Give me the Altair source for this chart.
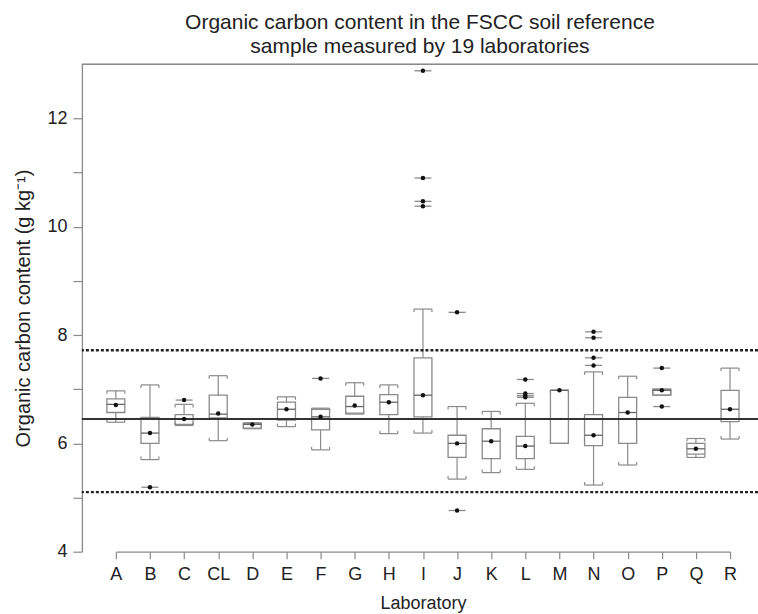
import altair as alt
import pandas as pd

labs = ["A", "B", "C", "CL", "D", "E", "F", "G", "H", "I",
        "J", "K", "L", "M", "N", "O", "P", "Q", "R"]
w_lo = [6.39, 5.70, 6.33, 6.05, 6.27, 6.31, 5.88, 6.54, 6.18, 6.19,
        5.34, 5.46, 5.52, 6.00, 5.23, 5.60, 6.89, 5.74, 6.08]
q1 = [6.57, 6.00, 6.35, 6.47, 6.28, 6.43, 6.25, 6.56, 6.53, 6.49,
      5.74, 5.72, 5.72, 6.00, 5.96, 6.00, 6.89, 5.80, 6.40]
med = [6.72, 6.19, 6.45, 6.54, 6.35, 6.63, 6.49, 6.68, 6.76, 6.89,
       6.00, 6.04, 5.95, 6.98, 6.15, 6.57, 6.98, 5.90, 6.63]
q3 = [6.82, 6.48, 6.53, 6.89, 6.37, 6.76, 6.63, 6.87, 6.90, 7.58,
      6.15, 6.27, 6.13, 6.98, 6.53, 6.85, 7.00, 6.00, 6.98]
w_hi = [6.97, 7.08, 6.72, 7.25, 6.38, 6.86, 6.65, 7.12, 7.08, 8.48,
        6.68, 6.59, 6.74, 6.98, 7.32, 7.24, 7.00, 6.09, 7.39]
means = [6.71, 6.19, 6.45, 6.55, 6.35, 6.63, 6.49, 6.70, 6.76, 6.89,
         6.00, 6.04, 5.95, 6.98, 6.15, 6.57, 6.98, 5.90, 6.63]

out_lab = ["B", "C", "F", "I", "I", "I", "I", "J", "J", "L",
           "L", "L", "L", "N", "N", "N", "N", "P", "P"]
out_val = [5.19, 6.80, 7.20, 12.88, 10.90, 10.47, 10.38, 8.42, 4.76, 7.18,
           6.92, 6.88, 6.85, 8.06, 7.95, 7.58, 7.44, 7.39, 6.68]

ref_mean = 6.45
ref_lo = 5.10
ref_hi = 7.72

y_ticks = [4, 5, 6, 7, 8, 9, 10, 11, 12]

df = pd.DataFrame({"lab": labs, "w_lo": w_lo, "q1": q1, "med": med,
                   "q3": q3, "w_hi": w_hi, "mean": means})
dout = pd.DataFrame({"lab": out_lab, "val": out_val})
dref = pd.DataFrame({"v": [ref_mean, ref_lo, ref_hi],
                     "kind": ["mean", "lim", "lim"]})

FONT = "Liberation Sans"
GRAY = "#8a8a8a"
HW = 9
W, H = 677, 488

xs = alt.Scale(type="point", domain=labs, range=[34, 649], padding=0)
ys = alt.Scale(domain=[4, 13], nice=False, zero=False)

X = alt.X("lab:N", scale=xs, sort=labs,
          axis=alt.Axis(title="Laboratory", labelAngle=0, tickSize=7,
                        labelPadding=7, titlePadding=11, labelFontSize=18,
                        titleFontSize=18, ticks=True, domain=True))
Y_axis = alt.Axis(title="Organic carbon content (g kg⁻¹)", values=y_ticks,
                  labelExpr="datum.value % 2 == 0 ? datum.label : ''",
                  tickSize=9, labelPadding=6, titlePadding=13,
                  labelFontSize=18, titleFontSize=20, grid=False)


def Y(field):
    return alt.Y(f"{field}:Q", scale=ys, axis=Y_axis)


base = alt.Chart(df)

# whiskers
wlow = base.mark_rule(color=GRAY, strokeWidth=1.2).encode(
    x=X, y=Y("w_lo"), y2="q1")
whigh = base.mark_rule(color=GRAY, strokeWidth=1.2).encode(
    x=X, y=Y("q3"), y2="w_hi")

# caps (horizontal) with small bracket legs
cap_hi = base.mark_rule(color=GRAY, strokeWidth=1.2, xOffset=-HW,
                        x2Offset=HW).encode(x=X, x2="lab", y=Y("w_hi"))
cap_lo = base.mark_rule(color=GRAY, strokeWidth=1.2, xOffset=-HW,
                        x2Offset=HW).encode(x=X, x2="lab", y=Y("w_lo"))
legs = []
for dx in (-HW, HW):
    legs.append(base.mark_rule(color=GRAY, strokeWidth=1.2, xOffset=dx,
                               y2Offset=3).encode(x=X, y=Y("w_hi"), y2="w_hi"))
    legs.append(base.mark_rule(color=GRAY, strokeWidth=1.2, xOffset=dx,
                               y2Offset=-3).encode(x=X, y=Y("w_lo"), y2="w_lo"))

box = base.mark_rect(fillOpacity=0, stroke=GRAY, strokeWidth=1.3,
                     xOffset=-HW, x2Offset=HW).encode(
    x=X, x2="lab", y=Y("q1"), y2="q3")
median = base.mark_rule(color="#666666", strokeWidth=1.3, xOffset=-HW,
                        x2Offset=HW).encode(x=X, x2="lab", y=Y("med"))
meandot = base.mark_circle(color="#111111", size=20, opacity=1).encode(
    x=X, y=Y("mean"))

obase = alt.Chart(dout)
out_line = obase.mark_rule(color=GRAY, strokeWidth=1.3, xOffset=-8.5,
                           x2Offset=8.5).encode(x=X, x2="lab", y=Y("val"))
out_dot = obase.mark_circle(color="#111111", size=20, opacity=1).encode(
    x=X, y=Y("val"))

rbase = alt.Chart(dref)
ref_solid = rbase.transform_filter("datum.kind == 'mean'").mark_rule(
    color="#333333", strokeWidth=2.2).encode(y=Y("v"))
ref_dot = rbase.transform_filter("datum.kind == 'lim'").mark_rule(
    color="#222222", strokeWidth=2.4, strokeDash=[3, 2]).encode(y=Y("v"))

top_border = alt.Chart(dref).mark_rule(color=GRAY, strokeWidth=1.3).encode(
    x=alt.value(0), x2=alt.value(W), y=alt.value(0))

chart = alt.layer(
    top_border, wlow, whigh, cap_hi, cap_lo, *legs, box, median,
    ref_solid, ref_dot, out_line, out_dot, meandot
).properties(
    width=W, height=H,
    autosize=alt.AutoSizeParams(type="none"),
    padding={"left": 82, "top": 64, "right": 0, "bottom": 62},
    title=alt.Title(["Organic carbon content in the FSCC soil reference",
                     "sample measured by 19 laboratories"],
                    fontSize=21, font=FONT, fontWeight="normal",
                    color="#222222", offset=7, lineHeight=24,
                    anchor="middle"),
).configure_view(
    stroke=None
).configure_axis(
    domainColor=GRAY, tickColor=GRAY, domainWidth=1.3, tickWidth=1.2,
    labelFont=FONT, titleFont=FONT, labelColor="#222222",
    titleColor="#222222", titleFontWeight="normal", grid=False
)

chart.save("out.html", embed_options={"renderer": "svg", "actions": False})
